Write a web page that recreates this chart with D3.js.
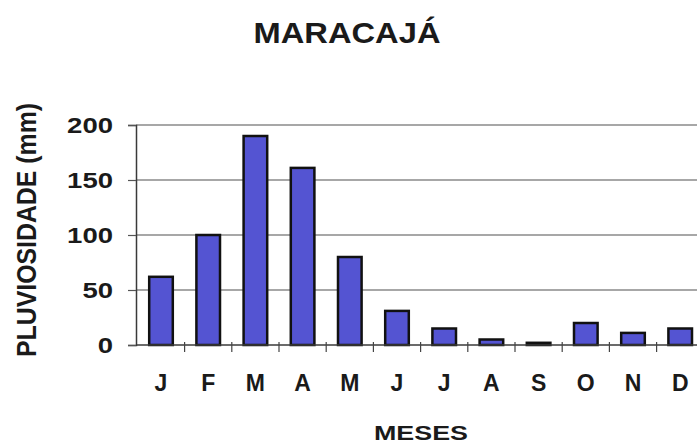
<!DOCTYPE html>
<html>
<head>
<meta charset="utf-8">
<script src="https://cdn.jsdelivr.net/npm/d3@7"></script>
<style>
  html, body { margin: 0; padding: 0; background: #fff; }
  svg { display: block; }
  text { font-family: Arial, "Liberation Sans", sans-serif; fill: #1a1a1a; }
</style>
</head>
<body>
<svg id="chart" width="697" height="445"></svg>
<script>
// Monthly rainfall (mm) at Maracajá
const months = ["J", "F", "M", "A", "M", "J", "J", "A", "S", "O", "N", "D"];
const rainfall = [62, 100, 190, 161, 80, 31, 15, 5, 2, 20, 11, 15];
const yTicks = [0, 50, 100, 150, 200];

const svg = d3.select("#chart");
const plot = { left: 137.4, right: 703.8, top: 125, bottom: 345 };

const x = d3.scaleBand()
  .domain(d3.range(months.length))
  .range([plot.left, plot.right])
  .paddingInner(0.5)
  .paddingOuter(0.25);

const y = d3.scaleLinear()
  .domain([0, 200])
  .range([plot.bottom, plot.top]);

// Horizontal gridlines
svg.append("g")
  .selectAll("line")
  .data(yTicks.filter(d => d > 0))
  .join("line")
  .attr("x1", 136).attr("x2", 697)
  .attr("y1", d => y(d)).attr("y2", d => y(d))
  .attr("stroke", "#8a8a8a")
  .attr("stroke-width", 1.5);

// Y axis
const yAxis = svg.append("g")
  .attr("transform", "translate(136,0)")
  .call(d3.axisLeft(y).tickValues(yTicks).tickSize(8).tickPadding(15));
yAxis.select(".domain").attr("stroke", "#3a3a3a").attr("stroke-width", 1.5);
yAxis.selectAll(".tick line").attr("stroke", "#555").attr("stroke-width", 1.2);
yAxis.selectAll(".tick text")
  .attr("font-size", 22)
  .attr("font-weight", "bold")
  .attr("fill", "#1a1a1a")
  .attr("dy", "0.36em")
  .attr("textLength", d => String(d).length * 15.3)
  .attr("lengthAdjust", "spacingAndGlyphs")
  .style("font-family", "Arial, 'Liberation Sans', sans-serif");

// Bars
svg.append("g")
  .selectAll("rect")
  .data(rainfall)
  .join("rect")
  .attr("x", (d, i) => x(i))
  .attr("width", x.bandwidth())
  .attr("y", d => y(d))
  .attr("height", d => y(0) - y(d))
  .attr("fill", "#5454d2")
  .attr("stroke", "#111")
  .attr("stroke-width", 2.5);

// X axis with ticks at category boundaries
const xAxisG = svg.append("g");
xAxisG.append("line")
  .attr("x1", 136).attr("x2", 697)
  .attr("y1", y(0)).attr("y2", y(0))
  .attr("stroke", "#3a3a3a").attr("stroke-width", 1.5);
xAxisG.selectAll("line.tick")
  .data(d3.range(1, months.length))
  .join("line")
  .attr("class", "tick")
  .attr("x1", i => x(i) - x.step() * x.paddingOuter())
  .attr("x2", i => x(i) - x.step() * x.paddingOuter())
  .attr("y1", y(0) - 3).attr("y2", y(0) + 7)
  .attr("stroke", "#444").attr("stroke-width", 1.2);
xAxisG.selectAll("text")
  .data(months)
  .join("text")
  .attr("x", (d, i) => x(i) + x.bandwidth() / 2)
  .attr("y", 391)
  .attr("text-anchor", "middle")
  .attr("font-size", 23)
  .attr("font-weight", "bold")
  .text(d => d);

// Title
svg.append("text")
  .attr("x", 347).attr("y", 43)
  .attr("text-anchor", "middle")
  .attr("font-size", 30)
  .attr("font-weight", "bold")
  .attr("textLength", 187)
  .attr("lengthAdjust", "spacingAndGlyphs")
  .text("MARACAJÁ");

// Y axis title
svg.append("text")
  .attr("transform", "translate(36,230) rotate(-90)")
  .attr("text-anchor", "middle")
  .attr("font-size", 28)
  .attr("font-weight", "bold")
  .attr("textLength", 254)
  .attr("lengthAdjust", "spacingAndGlyphs")
  .text("PLUVIOSIDADE (mm)");

// X axis title
svg.append("text")
  .attr("x", 421).attr("y", 440)
  .attr("text-anchor", "middle")
  .attr("font-size", 21)
  .attr("font-weight", "bold")
  .attr("textLength", 94)
  .attr("lengthAdjust", "spacingAndGlyphs")
  .text("MESES");
</script>
</body>
</html>
